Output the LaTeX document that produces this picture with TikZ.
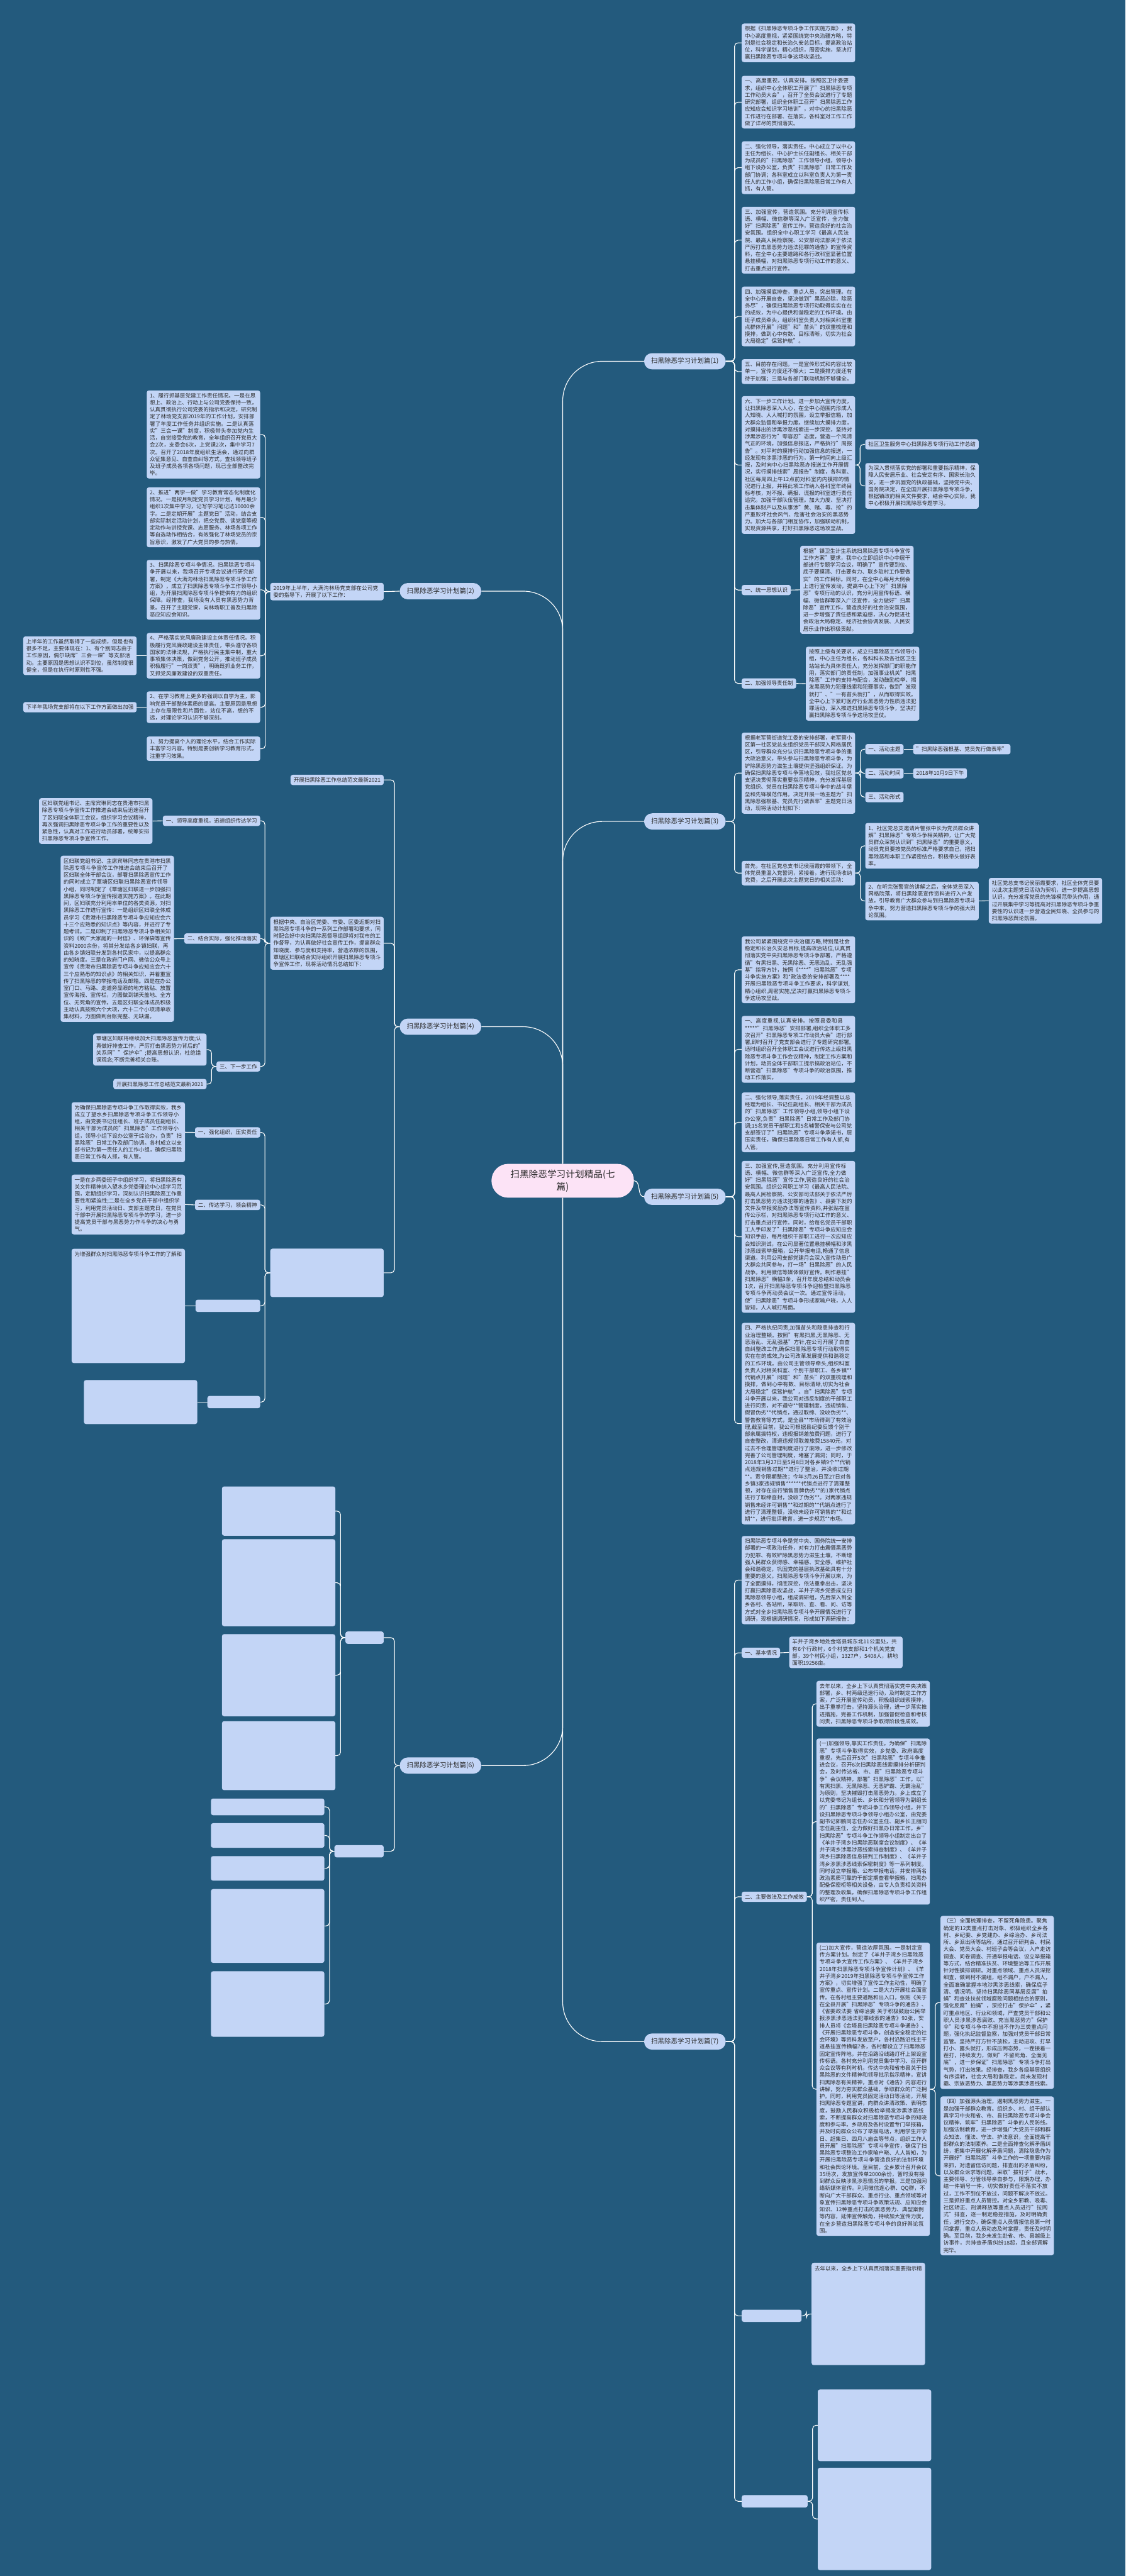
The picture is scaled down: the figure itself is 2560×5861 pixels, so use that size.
\documentclass[tikz,border=0pt]{standalone}
\usepackage{fontspec}
\setmainfont{Noto Sans CJK SC}
\XeTeXlinebreaklocale "zh"
\XeTeXlinebreakskip = 0pt plus 1pt
\pgfdeclarelayer{bgl}\pgfdeclarelayer{cl}\pgfsetlayers{bgl,cl,main}
\definecolor{bgc}{HTML}{235A7D}
\definecolor{boxc}{HTML}{C3D5F6}
\definecolor{txtc}{HTML}{2A2A2A}
\definecolor{ctrc}{HTML}{FCE3F6}
\tikzset{
 tb/.style={fill=boxc, rounded corners=5pt, inner xsep=7pt, inner ysep=6pt, text width=244pt, align=left, font=\fontsize{12.2}{16.1}\selectfont, text=txtc},
 lb/.style={fill=boxc, rounded corners=5pt, inner xsep=7pt, inner ysep=6pt, font=\fontsize{12.2}{16.1}\selectfont, text=txtc},
 ph/.style 2 args={fill=boxc, rounded corners=5pt, inner sep=0pt, minimum width=#1, minimum height=#2},
 fl/.style={inner sep=0pt, font=\fontsize{12.2}{16.1}\selectfont, text=txtc},
 br/.style={fill=boxc, rounded corners=18pt, inner xsep=16pt, minimum height=37pt, font=\fontsize{15}{18}\selectfont, text=txtc},
 ctr/.style={fill=ctrc, rounded corners=38pt, minimum width=324pt, minimum height=77pt, align=center, font=\fontsize{21}{28}\selectfont, text=txtc},
 conn/.style={draw=white, line width=1.6pt, rounded corners=8pt},
 bigc/.style={draw=white, line width=1.6pt, rounded corners=90pt},
}
\begin{document}
\begin{tikzpicture}[x=1pt,y=-1pt]
\useasboundingbox (0,0) rectangle (2560,5861);
\begin{pgfonlayer}{bgl}
\fill[bgc] (0,0) rectangle (2560,5861);
\end{pgfonlayer}

% centre and branches
\node[ctr] (c) at (1280,2686.5) {扫黑除恶学习计划精品(七\\篇)};
\node[br, anchor=west] (b1) at (1465,822) {扫黑除恶学习计划篇(1)};
\node[br, anchor=west] (b3) at (1465,1869) {扫黑除恶学习计划篇(3)};
\node[br, anchor=west] (b5) at (1465,2723) {扫黑除恶学习计划篇(5)};
\node[br, anchor=west] (b7) at (1465,4645) {扫黑除恶学习计划篇(7)};
\node[br, anchor=east] (b2) at (1095,1345) {扫黑除恶学习计划篇(2)};
\node[br, anchor=east] (b4) at (1095,2336) {扫黑除恶学习计划篇(4)};
\node[br, anchor=east] (b6) at (1095,4017) {扫黑除恶学习计划篇(6)};

% ---------- branch 1 ----------
\node[tb, anchor=west] (r1a) at (1687,97.5) {根据《扫黑除恶专项斗争工作实施方案》，我中心高度重视，紧紧围绕党中央治疆方略，特别是社会稳定和长治久安总目标，提高政治站位，科学谋划，精心组织，周密实施，坚决打赢扫黑除恶专项斗争这场攻坚战。};
\node[tb, anchor=west] (r1b) at (1687,232.5) {一、高度重视，认真安排。按照区卫计委要求，组织中心全体职工开展了"扫黑除恶专项工作动员大会"，召开了全员会议进行了专题研究部署，组织全体职工召开"扫黑除恶工作应知应会知识学习培训"，对中心的扫黑除恶工作进行在部署、在落实，各科室对工作工作做了详尽的贯彻落实。};
\node[tb, anchor=west] (r1c) at (1687,381.5) {二、强化领导，落实责任。中心成立了以中心主任为组长、中心护士长任副组长、相关干部为成员的"扫黑除恶"工作领导小组，领导小组下设办公室，负责"扫黑除恶"日常工作及部门协调；各科室成立以科室负责人为第一责任人的工作小组，确保扫黑除恶日常工作有人抓，有人管。};
\node[tb, anchor=west] (r1d) at (1687,546.5) {三、加强宣传，营造氛围。充分利用宣传标语、横幅、微信群等深入广泛宣传，全力做好"扫黑除恶"宣传工作，营造良好的社会治安氛围。组织全中心职工学习《最高人民法院、最高人民检察院、公安部司法部关于依法严厉打击黑恶势力违法犯罪的通告》的宣传资料，在全中心主要道路和各行政科室显著位置悬挂横幅，对扫黑除恶专项行动工作的意义、打击重点进行宣传。};
\node[tb, anchor=west] (r1e) at (1687,720) {四、加强摸底排查，重点人员，突出管理。在全中心开展自查，坚决做到"黑恶必除，除恶务尽"，确保扫黑除恶专项行动取得实实在在的成效，为中心提供和谐稳定的工作环境。由班子成员牵头，组织科室负责人对相关科室重点群体开展"问题"和"苗头"的双重梳理和摸排，做到心中有数、目标清晰，切实为社会大局稳定"保驾护航"。};
\node[tb, anchor=west] (r1f) at (1687,845.5) {五、目前存在问题。一是宣传形式和内容比较单一，宣传力度还不够大；二是摸排力度还有待于加强；三是与各部门联动机制不够健全。};
\node[tb, anchor=west] (r1g) at (1687,1058) {六、下一步工作计划。进一步加大宣传力度，让扫黑除恶深入人心，在全中心范围内形成人人知晓、人人喊打的氛围，设立举报信箱，加大群众监督和举报力度。继续加大摸排力度，对摸排出的涉黑涉恶线索进一步深挖，坚持对涉黑涉恶行为"零容忍"态度，营造一个风清气正的环境。加强信息报送，严格执行"周报告"。对平时的摸排行动加强信息的报送，一经发现有涉黑涉恶的行为，第一时间向上级汇报，及时向中心扫黑除恶办报送工作开展情况，实行摸排线索"周报告"制度，各科室、社区每周四上午12点前对科室内内摸排的情况进行上报，并将此项工作纳入各科室年终目标考核，对不报、瞒报、谎报的科室进行责任追究。加强干部队伍管理。加大力度、坚决打击集体财产以及从事涉"黄、赌、毒、抢"的严重败坏社会风气、危害社会治安的黑恶势力。加大与各部门相互协作，加强联动机制，实现资源共享，打好扫黑除恶这场攻坚战。};
\node[lb, anchor=west] (r1g1) at (1968,1011) {社区卫生服务中心扫黑除恶专项行动工作总结};
\node[tb, anchor=west] (r1g2) at (1968,1105.5) {为深入贯彻落实党的部署和重要指示精神，保障人民安居乐业、社会安定有序、国家长治久安，进一步巩固党的执政基础，坚持党中央、国务院决定，在全国开展扫黑除恶专项斗争，根据镇政府相关文件要求，结合中心实际，我中心积极开展扫黑除恶专题学习。};
\node[lb, anchor=west] (r1h) at (1687,1342.5) {一、统一思想认识};
\node[tb, anchor=west] (r1h1) at (1820,1342) {根据"镇卫生计生系统扫黑除恶专项斗争宣传工作方案"要求，我中心立即组织中心中层干部进行专题学习会议，明确了"宣传要到位、底子要摸清、打击要有力、联乡驻村工作要做实"的工作目标。同时，在全中心每月大例会上进行宣传发动，提高中心上下对"扫黑除恶"专项行动的认识，充分利用宣传标语、横幅、微信群等深入广泛宣传，全力做好"扫黑除恶"宣传工作，营造良好的社会治安氛围，进一步增强了责任感和紧迫感，决心为促进社会政治大局稳定、经济社会协调发展、人民安居乐业作出积极贡献。};
\node[lb, anchor=west] (r1i) at (1687,1555) {二、加强领导责任制};
\node[tb, anchor=west] (r1i1) at (1833,1555.5) {按照上级有关要求，成立扫黑除恶工作领导小组，中心主任为组长，各科科长及各社区卫生站站长为具体责任人，充分发挥部门的职能作用，落实部门的责任制，加强事业机关"扫黑除恶"工作的支持与配合，发动鼓励检举、揭发黑恶势力犯罪线索和犯罪事实，做到"发现就打"、"一有苗头就打"，从而取得实效。全中心上下紧盯医疗行业黑恶势力性质违法犯罪活动，深入推进扫黑除恶专项斗争，坚决打赢扫黑除恶专项斗争这场攻坚仗。};

% ---------- branch 3 ----------
\node[tb, anchor=west] (r3a) at (1687,1759) {根据老军营街道党工委的安排部署，老军营小区第一社区党总支组织党员干部深入网格居民区，引导群众充分认识扫黑除恶专项斗争的重大政治意义，带头参与扫黑除恶专项斗争，为铲除黑恶势力滋生土壤提供坚强组织保证。为确保扫黑除恶专项斗争落地见效，我社区党总支坚决贯彻落实重要指示精神，充分发挥基层党组织、党员在扫黑除恶专项斗争中的战斗堡垒和先锋模范作用。决定开展一场主题为"扫黑除恶强根基、党员先行做表率"主题党日活动，现将活动计划如下：};
\node[lb, anchor=west] (r3a1) at (1968,1704.5) {一、活动主题};
\node[lb, anchor=west] (r3a1v) at (2077,1704.5) {"扫黑除恶强根基、党员先行做表率"};
\node[lb, anchor=west] (r3a2) at (1968,1759.5) {二、活动时间};
\node[lb, anchor=west] (r3a2v) at (2077,1759.5) {2018年10月9日下午};
\node[lb, anchor=west] (r3a3) at (1968,1813.5) {三、活动形式};
\node[tb, anchor=west] (r3b) at (1687,1986.5) {首先，在社区党总支书记侯丽霞的带领下，全体党员重温入党誓词，紧接着，进行现场收纳党费，之后开展此次主题党日的相关活动：};
\node[tb, anchor=west] (r3b1) at (1968,1924.5) {1、社区党总支邀请片警张中长为党员群众讲解"扫黑除恶"专项斗争相关精神，让广大党员群众深刻认识到"扫黑除恶"的重要意义，动员党员要按党员的标准严格要求自己，把扫黑除恶和本职工作紧密结合，积极带头做好表率。};
\node[tb, anchor=west] (r3b2) at (1968,2050) {2、在听完张警官的讲解之后，全体党员深入网格院落，将扫黑除恶宣传资料进行入户发放，引导教育广大群众参与到扫黑除恶专项斗争中来，努力营造扫黑除恶专项斗争的强大舆论氛围。};
\node[tb, anchor=west] (r3b2a) at (2249,2049.5) {社区党总支书记侯丽霞要求，社区全体党员要以此次主题党日活动为契机，进一步提高思想认识，充分发挥党员的先锋模范带头作用，通过开展集中学习等提高对扫黑除恶专项斗争重要性的认识进一步营造全民知晓、全员参与的扫黑除恶舆论氛围。};

% ---------- branch 5 ----------
\node[tb, anchor=west] (r5a) at (1687,2206.5) {我公司紧紧围绕党中央治疆方略,特别是社会稳定和长治久安总目标,提高政治站位,认真贯彻落实党中央扫黑除恶专项斗争部署，严格遵循"有黑扫黑、无黑除恶、无恶治乱、无乱强基"指导方针，按照《****"扫黑除恶"专项斗争实施方案》和*政法委的安排部署及****开展扫黑除恶专项斗争工作要求，科学谋划,精心组织,周密实施,坚决打赢扫黑除恶专项斗争这场攻坚战。};
\node[tb, anchor=west] (r5b) at (1687,2387.5) {一、高度重视,认真安排。按照县委和县*****"扫黑除恶"安排部署,组织全体职工多次召开"扫黑除恶专项工作动员大会"进行部署,即时召开了党支部会进行了专题研究部署,适时组织召开全体职工会议进行传达上级扫黑除恶专项斗争工作会议精神，制定工作方案和计划，动员全体干部职工提示搞政治站位，不断营造"扫黑除恶"专项斗争的政治氛围，推动工作落实。};
\node[tb, anchor=west] (r5c) at (1687,2553.5) {二、强化领导,落实责任。2019年经调整以总经理为组长、书记任副组长、相关干部为成员的"扫黑除恶"工作领导小组,领导小组下设办公室,负责"扫黑除恶"日常工作及部门协调;15名党员干部职工和5名辅警保安与公司党支部签订了"扫黑除恶"专项斗争承诺书，层压实责任，确保扫黑除恶日常工作有人抓,有人管。};
\node[tb, anchor=west] (r5d) at (1687,2814) {三、加强宣传,营造氛围。充分利用宣传标语、横幅、微信群等深入广泛宣传,全力做好"扫黑除恶"宣传工作,营造良好的社会治安氛围。组织公司职工学习《最高人民法院、最高人民检察院、公安部司法部关于依法严厉打击黑恶势力违法犯罪的通告》、县委下发的文件及举报奖励办法等宣传资料,并张贴在宣传公示栏，对扫黑除恶专项行动工作的意义、打击重点进行宣传。同时，给每名党员干部职工人手印发了"扫黑除恶"专项斗争应知应会知识手册，每月组织干部职工进行一次应知应会知识测试，在公司显著位置悬挂横幅和涉黑涉恶线索举报箱，公开举报电话,畅通了信息渠道。利用公司支部党建月会深入宣传动员广大群众共同参与，打一场"扫黑除恶"的人民战争。利用微信等媒体做好宣传。制作悬挂"扫黑除恶"横幅3条，召开年度总结和动员会1次，召开扫黑除恶专项斗争迎检暨扫黑除恶专项斗争再动员会议一次。通过宣传活动，使"扫黑除恶"专项斗争形成家喻户晓，人人皆知，人人喊打局面。};
\node[tb, anchor=west] (r5e) at (1687,3239) {四、严格执纪问责,加强苗头和隐患排查和行业治理整顿。按照"有黑扫黑,无黑除恶、无恶治乱、无乱强基"方针,在公司开展了自查自纠整改工作,确保扫黑除恶专项行动取得实实在在的成效,为公司改革发展提供和谐稳定的工作环境。由公司主管领导牵头,组织科室负责人对相关科室、个别干部职工、各乡镇**代销点开展"问题"和"苗头"的双重梳理和摸排，做到心中有数、目标清晰,切实为社会大局稳定"保驾护航"。自"扫黑除恶"专项斗争开展以来，我公司对违反制度的干部职工进行问责，对不遵守**管理制度，违规销售、假冒伪劣**代销点，通过取缔、没收伪劣**、警告教育等方式，是全县**市场得到了有效治理,截至目前，我公司根据县纪委反馈个别干部亲属搞特权，违规报销差旅费问题，进行了自查整改，清退违规领取差旅费15840元，对过去不合理管理制度进行了废除，进一步修改完善了公司管理制度，堵塞了漏洞；同时，于2018年3月27日至5月8日对各乡镇9个**代销点违规销售过期**进行了整治，并没收过期**，责令限期整改；今年3月26日至27日对各乡镇3家违规销售******代销点进行了清理整顿，对存在自行销售冒牌伪劣**的1家代销点进行了取缔查封，没收了伪劣**。对两家违规销售未经许可销售**和过期的**代销点进行了进行了清理整顿，没收未经许可销售的**和过期**，进行批评教育，进一步规范**市场。};

% ---------- branch 7 ----------
\node[tb, anchor=west] (r7a) at (1687,3595) {扫黑除恶专项斗争是党中央、国务院统一安排部署的一项政治任务，对有力打击震慑黑恶势力犯罪、有效铲除黑恶势力滋生土壤，不断增强人民群众获得感、幸福感、安全感，维护社会和谐稳定，巩固党的基层执政基础具有十分重要的意义。扫黑除恶专项斗争开展以来，为了全面摸排，彻底深挖，依法重拳出击，坚决打赢扫黑除恶攻坚战，羊井子湾乡党委成立扫黑除恶领导小组，组成调研组，先后深入到全乡各村、各站所，采取听、查、看、问、访等方式对全乡扫黑除恶专项斗争开展情况进行了调研，现根据调研情况，形成如下调研报告：};
\node[lb, anchor=west] (r7b) at (1687,3760.5) {一、基本情况};
\node[tb, anchor=west] (r7b1) at (1795,3759.5) {羊井子湾乡地处金塔县城东北11公里处，共有6个行政村，6个村党支部和1个机关党支部，39个村民小组，1327户，5408人，耕地面积19256亩。};
\node[lb, anchor=west] (r7c) at (1687,4315.5) {二、主要做法及工作成效};
\node[tb, anchor=west] (r7c1) at (1857,3876.5) {去年以来，全乡上下认真贯彻落实党中央决策部署，乡、村两级迅速行动，及时制定工作方案，广泛开展宣传动员，积极组织线索摸排，出手重拳打击，坚持源头治理，进一步落实推进措施，完善工作机制，加强督促检查和考核问责，扫黑除恶专项斗争取得阶段性成效。};
\node[tb, anchor=west] (r7c2) at (1857,4144.5) {(一)加强领导,靠实工作责任。为确保"扫黑除恶"专项斗争取得实效，乡党委、政府高度重视，先后召开5次"扫黑除恶"专项斗争推进会议，召开6次扫黑除恶线索摸排分析研判会，及时传达省、市、县"扫黑除恶专项斗争"会议精神，部署"扫黑除恶"工作。以"有黑扫黑、无黑除恶、无恶铲霸、无霸治乱"为原则，坚决摧毁打击黑恶势力。乡上成立了以党委书记为组长、乡长和分管领导为副组长的"扫黑除恶"专项斗争工作领导小组，并下设扫黑除恶专项斗争领导小组办公室，由党委副书记郭鹏同志任办公室主任、副乡长王丽同志任副主任，全力做好扫黑办日常工作。乡"扫黑除恶"专项斗争工作领导小组制定出台了《羊井子湾乡扫黑除恶联席会议制度》、《羊井子湾乡涉黑涉恶线索排查制度》、《羊井子湾乡扫黑除恶信息研判工作制度》、《羊井子湾乡涉黑涉恶线索保密制度》等一系列制度。同时设立举报箱、公布举报电话，并安排两名政治素质可靠的干部定期查看举报箱，扫黑办配备保密柜等相关设备，由专人负责相关资料的整理及收集，确保扫黑除恶专项斗争工作组织严密，责任到人。};
\node[tb, anchor=west] (r7c3) at (1857,4753.5) {(二)加大宣传，营造浓厚氛围。一是制定宣传方案计划。制定了《羊井子湾乡扫黑除恶专项斗争大宣传工作方案》、《羊井子湾乡2018年扫黑除恶专项斗争宣传计划》、《羊井子湾乡2019年扫黑除恶专项斗争宣传工作方案》，切实增强了宣传工作主动性，明确了宣传重点、宣传计划。二是大力开展社会面宣传。在各村组主要道路和出入口，张贴《关于在全县开展"扫黑除恶"专项斗争的通告》、《省委政法委 省综治委 关于积极鼓励公民举报涉黑涉恶违法犯罪线索的通告》92张，安排人员将《金塔县扫黑除恶专项斗争通告》、《开展扫黑除恶专项斗争，创造安全稳定的社会环境》等资料发放至户，各村沿路沿线主干道悬挂宣传横幅7条，各村都设立了扫黑除恶固定宣传阵地，并在沿路沿线路灯杆上架设宣传标语。各村充分利用党员集中学习、召开群众会议等有利时机，传达中央和省市县关于扫黑除恶的文件精神和领导批示指示精神，宣讲扫黑除恶有关精神，重点对《通告》内容进行讲解，努力夯实群众基础，争取群众的广泛拥护。同时，利用党员固定活动日等活动，开展扫黑除恶专题宣讲，向群众讲清政策、表明态度，鼓励人民群众积极检举揭发涉黑涉恶线索，不断提高群众对扫黑除恶专项斗争的知晓度和参与率。乡政府及各村设置专门举报箱，并及时向群众公布了举报电话，利用学生开学日、赶集日、四月八庙会等节点，组织工作人员开展"扫黑除恶"专项斗争宣传，确保了扫黑除恶专项整治工作家喻户晓、人人皆知，为开展扫黑除恶专项斗争营造良好的法制环境和社会舆论环境。至目前，全乡累计召开会议35场次，发放宣传单2000余份，暂时没有接到群众反映涉黑涉恶情况的举报。三是加强网络新媒体宣传。利用微信连心群、QQ群，不断向广大干部群众、重点行业、重点领域等对象宣传扫黑除恶专项斗争政策法规、应知应会知识、12种重点打击的黑恶势力、典型案例等内容，延伸宣传触角，持续加大宣传力度，在全乡营造扫黑除恶专项斗争的良好舆论氛围。};
\node[tb, anchor=west] (r7c3a) at (2139,4556) {（三）全面梳理排查，不留死角隐患。聚焦确定的12类重点打击对象、积极组织全乡各村、乡纪委、乡党建办、乡综治办、乡司法所、乡派出所等站所，通过召开研判会、村民大会、党员大会、村班子会等会议，入户走访调查、问卷调查、开通举报电话、设立举报箱等方式，结合精准扶贫、环境整治等工作开展针对性摸排调研。对重点领域、重点人员深挖细查，做到村不漏组，组不漏户，户不漏人，全面准确掌握本地涉黑涉恶线索，确保底子清、情况明。坚持扫黑除恶同基层反腐"拍蝇"和查处扶贫领域腐败问题相结合的原则，强化反腐"拍蝇"，深挖打击"保护伞"，紧盯重点地区、行业和领域，严查党员干部和公职人员涉黑涉恶腐败、充当黑恶势力"保护伞"和专项斗争中不担当不作为三类重点问题，强化执纪监督监察，加强对党员干部日常监管。坚持严打方针不放松，主动进攻、打早打小、露头就打，形成压倒态势，一茬接着一茬打，持续发力，做到"不留死角、全面见底"，进一步保证"扫黑除恶"专项斗争打出气势，打出效果。经排查，我乡各级基层组织有序运转，社会大局和谐稳定，尚未发现村霸、宗族恶势力、黑恶势力等涉黑涉恶线索。};
\node[tb, anchor=west] (r7c3b) at (2139,4950.5) {（四）加强源头治理，遏制黑恶势力滋生。一是加强干部群众教育。组织乡、村、组干部认真学习中央和省、市、县扫黑除恶专项斗争会议精神，筑牢"扫黑除恶"斗争的人民防线。加强法制教育，进一步增强广大党员干部和群众知法、懂法、守法、护法意识，全面提高干部群众的法制素养。二是全面排查化解矛盾纠纷，把集中开展化解矛盾问题，清除隐患作为开展好"扫黑除恶"斗争工作的一项重要内容来抓，对遗留信访问题，排查出的矛盾纠纷，以及群众诉求等问题，采取"拔钉子"战术，主要领导、分管领导亲自参与，限期办理，办结一件销号一件，切实做好责任不落实不放过，工作不到位不放过，问题不解决不放过。三是抓好重点人员管控。对全乡邪教、吸毒、社区矫正、刑满释放等重点人员进行"拉网式"排查，逐一制定稳控措施，及时明确责任，进行交办，确保重点人员情报信息第一时间掌握，重点人员动态及时掌握，责任及时明确。至目前，我乡未发生赴省、市、县越级上访事件，共排查矛盾纠纷18起，且全部调解完毕。};
% lower part of branch 7 (only the first line could be read)
\node[ph={136pt}{28pt}, anchor=west] (r7d) at (1687,5269) {};
\node[ph={258pt}{233pt}, anchor=north west] (r7d1) at (1846,5148) {};
\node[fl, anchor=north west] (r7d1t) at ([shift={(7,7)}]r7d1.north west) {去年以来，全乡上下认真贯彻落实重要指示精};
\node[ph={150pt}{28pt}, anchor=west] (r7e) at (1687,5691) {};
\node[ph={258pt}{163pt}, anchor=west] (r7e1) at (1860,5518) {};
\node[ph={258pt}{233pt}, anchor=west] (r7e2) at (1860,5731) {};

% ---------- branch 2 ----------
\node[tb, anchor=east] (l2a) at (873,1346) {2019年上半年，大满沟林场党支部在公司党委的指导下，开展了以下工作：};
\node[tb, anchor=east] (l2a1) at (592,988.5) {1、履行抓基层党建工作责任情况。一是在思想上、政治上、行动上与公司党委保持一致，认真贯彻执行公司党委的指示和决定，研究制定了林场党支部2019年的工作计划，安排部署了年度工作任务并组织实施。二是认真落实"三会一课"制度，积极带头参加党内生活，自觉接受党的教育，全年组织召开党员大会2次，支委会6次，上党课2次，集中学习7次。召开了2018年度组织生活会，通过向群众征集意见、自查自纠等方式，查找领导班子及班子成员各项各项问题，现已全部整改完毕。};
\node[tb, anchor=east] (l2a2) at (592,1177) {2、推进"两学一做"学习教育常态化制度化情况。一是按月制定党员学习计划，每月最少组织1次集中学习，记写学习笔记达10000余字。二是定期开展"主题党日"活动，结合支部实际制定活动计划，把交党费、读党章等规定动作与讲授党课、志愿服务、林场各项工作等自选动作相结合，有效强化了林场党员的宗旨意识，激发了广大党员的参与热情。};
\node[tb, anchor=east] (l2a3) at (592,1342) {3、扫黑除恶专项斗争情况。扫黑除恶专项斗争开展以来，我场召开专项会议进行研究部署，制定《大满沟林场扫黑除恶专项斗争工作方案》，成立了扫黑除恶专项斗争工作领导小组，为开展扫黑除恶专项斗争提供有力的组织保障。经排查，我场没有人员有黑恶势力背景。召开了主题党课，向林场职工普及扫黑除恶应知应会知识。};
\node[tb, anchor=east] (l2a4) at (592,1492) {4、严格落实党风廉政建设主体责任情况。积极履行党风廉政建设主体责任，带头遵守各项国家的法律法规，严格执行民主集中制，重大事项集体决策，做到党务公开，推动班子成员积极履行"一岗双责"，明确既抓业务工作，又抓党风廉政建设的双重责任。};
\node[tb, anchor=east] (l2a4a) at (311,1492) {上半年的工作虽然取得了一些成绩，但是也有很多不足，主要体现在：1、有个别同志由于工作原因，偶尔缺席"三会一课"等支部活动。主要原因是思想认识不到位，虽然制度很健全，但是在执行时原则性不强。};
\node[tb, anchor=east] (l2a5) at (592,1609) {2、在学习教育上更多的强调以自学为主，影响党员干部整体素质的提高。主要原因是思想上存在局限性和片面性，站位不高，想的不远，对理论学习认识不够深刻。};
\node[lb, anchor=east] (l2a5a) at (311,1609) {下半年我场党支部将在以下工作方面做出加强};
\node[tb, anchor=east] (l2a6) at (592,1703.5) {1、努力提高个人的理论水平，结合工作实际丰富学习内容。特别是要创新学习教育形式，注重学习效果。};

% ---------- branch 4 ----------
\node[lb, anchor=east] (l4a) at (873,1774.5) {开展扫黑除恶工作总结范文最新2021};
\node[tb, anchor=east] (l4b) at (873,2146) {根据中央、自治区党委、市委、区委近期对扫黑除恶专项斗争的一系列工作部署和要求，同时配合好中央扫黑除恶督导组即将对我市的工作督导，为认真做好社会宣传工作，提高群众知晓度、参与度和支持率，营造浓厚的氛围，覃塘区妇联结合实际组织开展扫黑除恶专项斗争宣传工作，现将活动情况总结如下：};
\node[lb, anchor=east] (l4b1) at (592,1867.5) {一、领导高度重视，迅速组织传达学习};
\node[tb, anchor=east] (l4b1a) at (347,1868) {区妇联党组书记、主席宾琳同志在贵港市扫黑除恶专项斗争宣传工作推进会结束后迅速召开了区妇联全体职工会议，组织学习会议精神，再次强调扫黑除恶专项斗争工作的重要性以及紧急性，认真对工作进行动员部署，统筹安排扫黑除恶专项斗争宣传工作。};
\node[lb, anchor=east] (l4b2) at (592,2135.5) {二、结合实际，强化推动落实};
\node[tb, anchor=east] (l4b2a) at (396,2136) {区妇联党组书记、主席宾琳同志在贵港市扫黑除恶专项斗争宣传工作推进会结束后召开了区妇联全体干部会议，部署扫黑除恶宣传工作的同时成立了覃塘区妇联扫黑除恶宣传领导小组，同时制定了《覃塘区妇联进一步加强扫黑除恶专项斗争宣传报道实施方案》。在此期间，区妇联充分利用本单位的各类资源，对扫黑除恶工作进行宣传：一是组织区妇联全体成员学习《贵港市扫黑除恶专项斗争应知应会六十三个应熟悉的知识点》等内容，并进行了专题考试。二是印制了扫黑除恶专项斗争相关知识的《致广大家庭的一封信》、环保袋等宣传资料2000余份，将其分发给各乡镇妇联，再由各乡镇妇联分发到各村民家中，以提高群众的知晓度。三是在政府门户网、微信公众号上宣传《贵港市扫黑除恶专项斗争应知应会六十三个应熟悉的知识点》的相关知识，并着重宣传了扫黑除恶的举报电话及邮箱。四是在办公室门口、马路、走道旁显眼的地方粘贴、放置宣传海报、宣传栏，力图做到铺天盖地、全方位、无死角的宣传。五是区妇联全体成员积极主动认真按照六个大项，六十二个小项清单收集材料，力图做到台账完整、无缺漏。};
\node[lb, anchor=east] (l4b3) at (592,2426.5) {三、下一步工作};
\node[tb, anchor=east] (l4b3a) at (470,2388) {覃塘区妇联将继续加大扫黑除恶宣传力度;认真做好排查工作，严厉打击黑恶势力背后的"关系网""保护伞";提高思想认识，杜绝错误观念;不断完善相关台账。};
\node[lb, anchor=east] (l4b3b) at (470,2466.5) {开展扫黑除恶工作总结范文最新2021};
\node[ph={258pt}{110pt}, anchor=east] (l4c) at (873,2896) {};
\node[lb, anchor=east] (l4c1) at (592,2576.5) {一、强化组织，压实责任};
\node[tb, anchor=east] (l4c1a) at (421,2576) {为确保扫黑除恶专项斗争工作取得实效，我乡成立了望水乡扫黑除恶专项斗争工作领导小组，由党委书记任组长、班子成员任副组长、相关干部为成员的"扫黑除恶"工作领导小组，领导小组下设办公室于综治办，负责"扫黑除恶"日常工作及部门协调。各村成立以支部书记为第一责任人的工作小组，确保扫黑除恶日常工作有人抓，有人管。};
\node[lb, anchor=east] (l4c2) at (592,2741.5) {二、传达学习，领会精神};
\node[tb, anchor=east] (l4c2a) at (421,2740.5) {一是在乡两委班子中组织学习，将扫黑除恶有关文件精神纳入望水乡党委理论中心组学习范围，定期组织学习，深刻认识扫黑除恶工作重要性和紧迫性;二是在全乡党员干部中组织学习，利用党员活动日、支部主题党日，在党员干部中开展扫黑除恶专项斗争的学习，进一步提高党员干部与黑恶势力作斗争的决心与勇气。};
\node[ph={147pt}{28pt}, anchor=east] (l4c3) at (592,2971) {};
\node[ph={258pt}{260pt}, anchor=north east] (l4c3a) at (421,2841) {};
\node[fl, anchor=north west] (l4c3at) at ([shift={(7,7)}]l4c3a.north west) {为增强群众对扫黑除恶专项斗争工作的了解和};
\node[ph={120pt}{28pt}, anchor=east] (l4c4) at (592,3190) {};
\node[ph={258pt}{100pt}, anchor=east] (l4c4a) at (449,3190) {};

% ---------- branch 6 (text not legible in the reference copy) ----------
\node[ph={87pt}{28pt}, anchor=east] (l6a) at (873,3726) {};
\node[ph={258pt}{112pt}, anchor=east] (l6a1) at (763,3438) {};
\node[ph={258pt}{198pt}, anchor=east] (l6a2) at (763,3601) {};
\node[ph={258pt}{187pt}, anchor=east] (l6a3) at (763,3811.5) {};
\node[ph={258pt}{157pt}, anchor=east] (l6a4) at (763,3994.5) {};
\node[ph={112pt}{28pt}, anchor=east] (l6b) at (873,4212) {};
\node[ph={258pt}{38pt}, anchor=east] (l6b1) at (738,4111) {};
\node[ph={258pt}{56pt}, anchor=east] (l6b2) at (738,4176) {};
\node[ph={258pt}{56pt}, anchor=east] (l6b3) at (738,4251) {};
\node[ph={258pt}{168pt}, anchor=east] (l6b4) at (738,4382) {};
\node[ph={258pt}{149pt}, anchor=east] (l6b5) at (738,4559.5) {};

% ---------- connectors ----------
\begin{pgfonlayer}{cl}
\draw[bigc] (c.north) |- (b1.west);
\draw[bigc] (c.north) |- (b3.west);
\draw[conn] (c.east) to[out=0,in=180] (b5.west);
\draw[bigc] (c.south) |- (b7.west);
\draw[bigc] (c.north) |- (b2.east);
\draw[bigc] (c.north) |- (b4.east);
\draw[bigc] (c.south) |- (b6.east);
\foreach \n in {r1a,r1b,r1c,r1d,r1e,r1f,r1g,r1h,r1i} \draw[conn] (b1.east) -- ++(20,0) |- (\n.west);
\foreach \n in {r1g1,r1g2} \draw[conn] (r1g.east) -- ++(11,0) |- (\n.west);
\draw[conn] (r1h.east) -- (r1h1.west);
\draw[conn] (r1i.east) -- (r1i1.west);
\foreach \n in {r3a,r3b} \draw[conn] (b3.east) -- ++(20,0) |- (\n.west);
\foreach \n in {r3a1,r3a2,r3a3} \draw[conn] (r3a.east) -- ++(12,0) |- (\n.west);
\draw[conn] (r3a1.east) -- (r3a1v.west);
\draw[conn] (r3a2.east) -- (r3a2v.west);
\foreach \n in {r3b1,r3b2} \draw[conn] (r3b.east) -- ++(12,0) |- (\n.west);
\draw[conn] (r3b2.east) -- (r3b2a.west);
\foreach \n in {r5a,r5b,r5c,r5d,r5e} \draw[conn] (b5.east) -- ++(20,0) |- (\n.west);
\foreach \n in {r7a,r7b,r7c,r7d,r7e} \draw[conn] (b7.east) -- ++(20,0) |- (\n.west);
\draw[conn] (r7b.east) -- (r7b1.west);
\foreach \n in {r7c1,r7c2,r7c3} \draw[conn] (r7c.east) -- ++(12,0) |- (\n.west);
\foreach \n in {r7c3a,r7c3b} \draw[conn] (r7c3.east) -- ++(12,0) |- (\n.west);
\draw[conn] (r7d.east) -- ++(11,0) |- (r7d1.west);
\foreach \n in {r7e1,r7e2} \draw[conn] (r7e.east) -- ++(11,0) |- (\n.west);
\draw[conn] (b2.west) -- (l2a.east);
\foreach \n in {l2a1,l2a2,l2a3,l2a4,l2a5,l2a6} \draw[conn] (l2a.west) -- ++(-11,0) |- (\n.east);
\draw[conn] (l2a4.west) -- (l2a4a.east);
\draw[conn] (l2a5.west) -- (l2a5a.east);
\foreach \n in {l4a,l4b,l4c} \draw[conn] (b4.west) -- ++(-12,0) |- (\n.east);
\foreach \n in {l4b1,l4b2,l4b3} \draw[conn] (l4b.west) -- ++(-12,0) |- (\n.east);
\draw[conn] (l4b1.west) -- (l4b1a.east);
\draw[conn] (l4b2.west) -- (l4b2a.east);
\foreach \n in {l4b3a,l4b3b} \draw[conn] (l4b3.west) -- ++(-11,0) |- (\n.east);
\foreach \n in {l4c1,l4c2,l4c3,l4c4} \draw[conn] (l4c.west) -- ++(-12,0) |- (\n.east);
\draw[conn] (l4c1.west) -- (l4c1a.east);
\draw[conn] (l4c2.west) -- (l4c2a.east);
\draw[conn] (l4c3.west) -- (l4c3a.east |- l4c3.west);
\draw[conn] (l4c4.west) -- (l4c4a.east);
\foreach \n in {l6a,l6b} \draw[conn] (b6.west) -- ++(-12,0) |- (\n.east);
\foreach \n in {l6a1,l6a2,l6a3,l6a4} \draw[conn] (l6a.west) -- ++(-11,0) |- (\n.east);
\foreach \n in {l6b1,l6b2,l6b3,l6b4,l6b5} \draw[conn] (l6b.west) -- ++(-11,0) |- (\n.east);
\end{pgfonlayer}
\end{tikzpicture}
\end{document}
